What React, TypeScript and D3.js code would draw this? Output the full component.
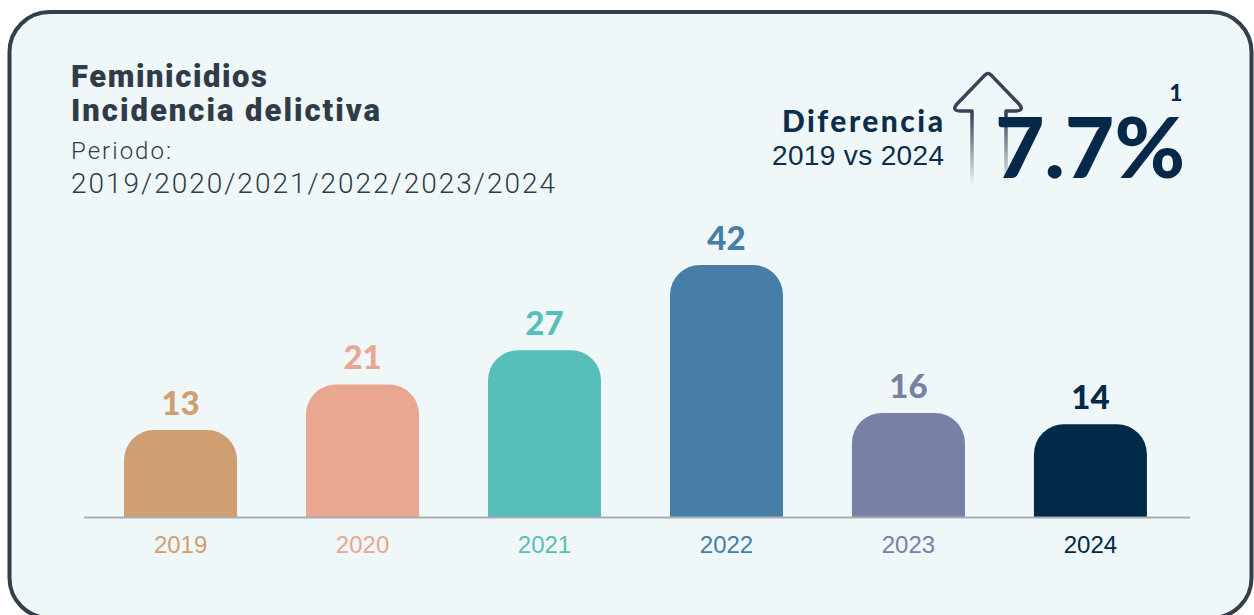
import React from "react";
import * as d3 from "d3";

const years = ["2019", "2020", "2021", "2022", "2023", "2024"];
const values = [13, 21, 27, 42, 16, 14];
const colors = ["#cf9f72", "#e9a690", "#57bfba", "#467ea6", "#7781a5", "#002a47"];
const titleLines = ["Feminicidios", "Incidencia delictiva"];
const periodLines = ["Periodo:", "2019/2020/2021/2022/2023/2024"];
const diffLabel = "Diferencia";
const diffSub = "2019 vs 2024";
const diffValue = "7.7%";
const footnote = "1";

const W = 1254;
const H = 615;
const baseY = 517;

export default function App() {
  const x = d3
    .scaleBand<string>()
    .domain(years)
    .range([89.5, 1181.5])
    .paddingInner(0.379)
    .paddingOuter(0.19);
  const y = d3.scaleLinear().domain([-2.3, 42]).range([baseY, 265]);
  const bw = x.bandwidth();
  const r = 30;

  const barPath = (v: number, yr: string) => {
    const x0 = x(yr)!;
    const x1 = x0 + bw;
    const t = y(v);
    const p = d3.path();
    p.moveTo(x0, baseY);
    p.lineTo(x0, t + r);
    p.arcTo(x0, t, x0 + r, t, r);
    p.lineTo(x1 - r, t);
    p.arcTo(x1, t, x1, t + r, r);
    p.lineTo(x1, baseY);
    p.closePath();
    return p.toString();
  };

  const titleLens = [196, 309];

  return (
    <svg
      width={W}
      height={H}
      style={{ position: "absolute", left: 0, top: 0 }}
      xmlns="http://www.w3.org/2000/svg"
    >
      <defs>
        <linearGradient id="arrowGrad" gradientUnits="userSpaceOnUse" x1="0" y1="115" x2="0" y2="186">
          <stop offset="0" stopColor="#3b4456" stopOpacity={1} />
          <stop offset="1" stopColor="#3b4456" stopOpacity={0} />
        </linearGradient>
      </defs>
      <rect x={0} y={0} width={W} height={H} fill="#ffffff" />
      <rect
        x={9.5}
        y={12}
        width={1242}
        height={606}
        rx={40}
        ry={40}
        fill="#eff7f9"
        stroke="#333f4a"
        strokeWidth={4}
      />

      {/* Title */}
      <g fontFamily="Roboto, 'Noto Sans', sans-serif" fill="#2f3c47">
        {titleLines.map((t, i) => (
          <text
            key={t}
            x={71}
            y={87 + i * 34}
            fontSize={31}
            fontWeight={900}
            textLength={titleLens[i]}
            lengthAdjust="spacing"
          >
            {t}
          </text>
        ))}
        <text x={71} y={159} fontSize={24} fontWeight={300} textLength={100} lengthAdjust="spacing">
          {periodLines[0]}
        </text>
        <text x={71} y={193} fontSize={28} fontWeight={300} textLength={484} lengthAdjust="spacing">
          {periodLines[1]}
        </text>
      </g>

      {/* Diferencia block */}
      <path
        d="M972,186 V111 H961 Q951,111 957,104 L985,75 Q988,72 991,75 L1019,104 Q1025,111 1015,111 H1006 V186"
        fill="none"
        stroke="url(#arrowGrad)"
        strokeWidth={3.5}
        strokeLinejoin="round"
      />
      <text
        x={943}
        y={132}
        textAnchor="end"
        fontFamily="Lato, Roboto, sans-serif"
        fontWeight={900}
        fontSize={30}
        fill="#0b2e4a"
        textLength={161}
        lengthAdjust="spacing"
      >
        {diffLabel}
      </text>
      <text
        x={944}
        y={165}
        textAnchor="end"
        fontFamily="'Liberation Sans', Arial, sans-serif"
        fontSize={28}
        fill="#0b2e4a"
        textLength={172}
        lengthAdjust="spacing"
      >
        {diffSub}
      </text>
      <text
        x={995}
        y={178}
        fontFamily="Lato, Roboto, sans-serif"
        fontWeight={900}
        fontSize={84}
        fill="#06294a"
        textLength={190}
        lengthAdjust="spacingAndGlyphs"
      >
        {diffValue}
      </text>
      <text
        x={1176}
        y={101}
        textAnchor="middle"
        fontFamily="Lato, Roboto, sans-serif"
        fontWeight={900}
        fontSize={22}
        fill="#06294a"
      >
        {footnote}
      </text>

      {/* Bars */}
      {years.map((yr, i) => (
        <path key={yr} d={barPath(values[i], yr)} fill={colors[i]} />
      ))}
      <line x1={84} x2={1190} y1={baseY + 0.5} y2={baseY + 0.5} stroke="#a9adb1" strokeWidth={2} />

      {years.map((yr, i) => (
        <text
          key={"v" + yr}
          x={x(yr)! + bw / 2}
          y={y(values[i]) - 15}
          textAnchor="middle"
          fontFamily="Lato, Roboto, sans-serif"
          fontWeight={900}
          fontSize={33}
          fill={colors[i]}
        >
          {values[i]}
        </text>
      ))}
      {years.map((yr, i) => (
        <text
          key={"l" + yr}
          x={x(yr)! + bw / 2}
          y={553}
          textAnchor="middle"
          fontFamily="'Liberation Sans', Arial, sans-serif"
          fontSize={24}
          fill={colors[i]}
        >
          {yr}
        </text>
      ))}
    </svg>
  );
}
